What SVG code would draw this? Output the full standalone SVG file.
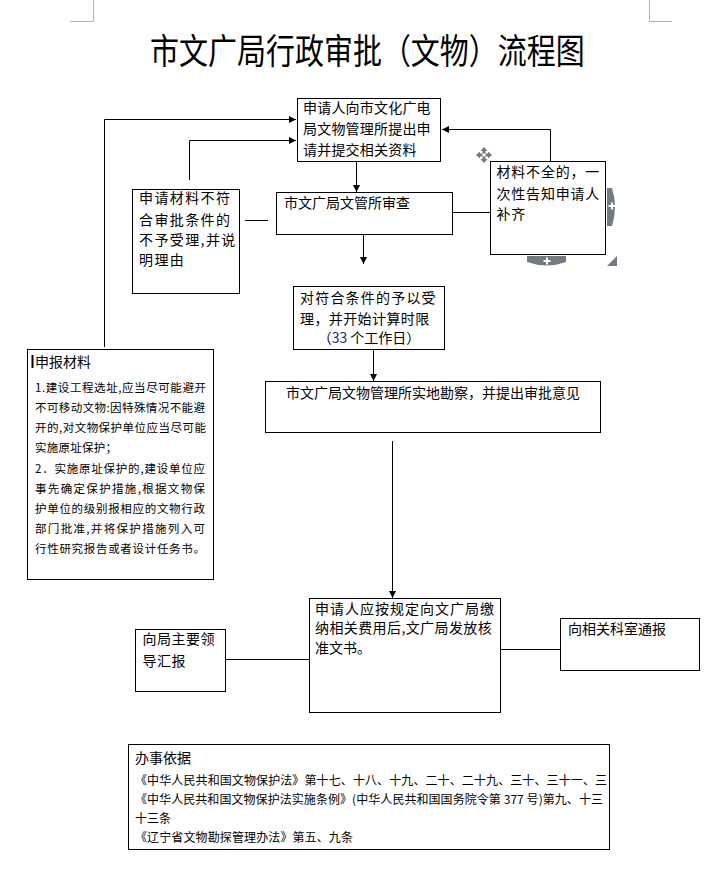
<svg xmlns="http://www.w3.org/2000/svg" width="727" height="883" viewBox="0 0 727 883">
<style>
  .box { fill: #ffffff; stroke: #000000; stroke-width: 1; }
  .ln { fill: none; stroke: #000000; stroke-width: 1; }
  .t { font-family: "Noto Sans CJK SC", "Liberation Sans", sans-serif; font-size: 14px; fill: #000000; }
  .s { font-family: "Noto Sans CJK SC", "Liberation Sans", sans-serif; font-size: 11.5px; fill: #000000; }
  .l { font-family: "Noto Sans CJK SC", "Liberation Sans", sans-serif; font-size: 12px; fill: #000000; }
  .ui { fill: #737a84; }
  .mark { fill: none; stroke: #b4b4b4; stroke-width: 1; }
</style>
<defs>
  <marker id="arr" viewBox="0 0 8 8" refX="8" refY="4" markerWidth="7" markerHeight="7" markerUnits="userSpaceOnUse" orient="auto">
    <path d="M0,0 L8,4 L0,8 z" fill="#000000"/>
  </marker>
  <clipPath id="lawclip"><rect x="129" y="745" width="480" height="104"/></clipPath>
</defs>
<rect x="0" y="0" width="727" height="883" fill="#ffffff"/>

<!-- page corner marks -->
<path class="mark" d="M70,21.5 H93.5 V0"/>
<path class="mark" d="M649.5,0 V21.5 H672"/>

<text transform="scale(1,1.2)" x="150" y="53.5" font-family="'Noto Sans CJK SC', sans-serif" font-size="29" fill="#000">市文广局行政审批（文物）流程图</text>

<g id="connectors">
  <path class="ln" d="M104.5,347 V119.5 H296" marker-end="url(#arr)"/>
  <path class="ln" d="M189.5,180 V140.5 H296" marker-end="url(#arr)"/>
  <path class="ln" d="M550.5,161 V129.5 H442" marker-end="url(#arr)"/>
  <path class="ln" d="M356.5,161.5 V192" marker-end="url(#arr)"/>
  <path class="ln" d="M245,220.5 H268"/>
  <path class="ln" d="M452.5,212.5 H490.5"/>
  <path class="ln" d="M363.5,234.5 V264" marker-end="url(#arr)"/>
  <path class="ln" d="M373.5,349.5 V381" marker-end="url(#arr)"/>
  <path class="ln" d="M392.5,441 V598" marker-end="url(#arr)"/>
  <path class="ln" d="M225.5,659.5 H309.5"/>
  <path class="ln" d="M500.5,649.5 H560.5"/>
</g>

<g id="node-apply">
  <rect class="box" x="297.5" y="98.5" width="143" height="63"/>
  <text class="t" x="303" y="113" letter-spacing="0.2">申请人向市文化广电</text>
  <text class="t" x="303" y="134" letter-spacing="0.2">局文物管理所提出申</text>
  <text class="t" x="303" y="154.5" letter-spacing="0.2">请并提交相关资料</text>
</g>

<g id="node-review">
  <rect class="box" x="276.5" y="192.5" width="176" height="42"/>
  <text class="t" x="284" y="208">市文广局文管所审查</text>
</g>

<g id="node-reject">
  <rect class="box" x="132.5" y="189.5" width="107" height="104"/>
  <text class="t" x="139" y="202.5" letter-spacing="1.4">申请材料不符</text>
  <text class="t" x="139" y="224.5" letter-spacing="1.4">合审批条件的</text>
  <text class="t" x="139" y="245" letter-spacing="1.4">不予受理,并说</text>
  <text class="t" x="139" y="265" letter-spacing="1.4">明理由</text>
</g>

<g id="node-incomplete">
  <rect class="box" x="490.5" y="161.5" width="115" height="93"/>
  <text class="t" x="496.5" y="176.5" letter-spacing="0.8">材料不全的，一</text>
  <text class="t" x="496.5" y="198.5" letter-spacing="0.8">次性告知申请人</text>
  <text class="t" x="496.5" y="219" letter-spacing="0.8">补齐</text>
  <!-- editor handles -->
  <path class="ui" d="M607,188 H612 Q618,207 612,226 H607 Z"/>
  <rect x="608.5" y="205" width="7" height="2" fill="#fff"/>
  <rect x="611" y="202.5" width="2" height="7" fill="#fff"/>
  <path class="ui" d="M527,256 H566 V262 Q547,269 527,262 Z"/>
  <rect x="543.5" y="260" width="7" height="2" fill="#fff"/>
  <rect x="546" y="257.5" width="2" height="7" fill="#fff"/>
  <path class="ui" d="M617,255 V266 H606 Z"/>
  <path d="M606,266 L617,255" stroke="#fff" stroke-width="1.5"/>
  <g class="ui">
    <path d="M484,147 L487.5,151 H480.5 Z"/>
    <path d="M484,163 L487.5,159 H480.5 Z"/>
    <path d="M476,155 L480,151.5 V158.5 Z"/>
    <path d="M492,155 L488,151.5 V158.5 Z"/>
    <rect x="482.5" y="151" width="3" height="2.5"/>
    <rect x="482.5" y="156.5" width="3" height="2.5"/>
    <rect x="480" y="153.5" width="2.5" height="3"/>
    <rect x="485.5" y="153.5" width="2.5" height="3"/>
  </g>
</g>

<g id="node-accept">
  <rect class="box" x="293.5" y="286.5" width="151" height="63"/>
  <text class="t" x="300" y="302.5" letter-spacing="1.2">对符合条件的予以受</text>
  <text class="t" x="300" y="323.5" letter-spacing="0.4">理，并开始计算时限</text>
  <text class="t" x="369" y="342.5" text-anchor="middle">（<tspan fill="#1a2f80">33</tspan> 个工作日）</text>
</g>

<g id="node-survey">
  <rect class="box" x="265.5" y="381.5" width="335" height="51"/>
  <text class="t" x="286" y="397.5">市文广局文物管理所实地勘察，并提出审批意见</text>
</g>

<g id="node-materials">
  <rect class="box" x="27.5" y="349.5" width="186" height="230"/>
  <rect x="31.5" y="355" width="2" height="13" fill="#000"/>
  <text class="t" x="35" y="366.5" font-size="13">申报材料</text>
  <text class="s" x="35" y="391.5" textLength="171" lengthAdjust="spacing">1.建设工程选址,应当尽可能避开</text>
  <text class="s" x="35" y="411.5" textLength="170" lengthAdjust="spacing">不可移动文物:因特殊情况不能避</text>
  <text class="s" x="35" y="432" textLength="171" lengthAdjust="spacing">开的,对文物保护单位应当尽可能</text>
  <text class="s" x="35" y="452" textLength="82" lengthAdjust="spacing">实施原址保护；</text>
  <text class="s" x="35" y="473" textLength="170" lengthAdjust="spacing">2．实施原址保护的,建设单位应</text>
  <text class="s" x="35" y="493" textLength="170" lengthAdjust="spacing">事先确定保护措施,根据文物保</text>
  <text class="s" x="35" y="513" textLength="170" lengthAdjust="spacing">护单位的级别报相应的文物行政</text>
  <text class="s" x="35" y="533" textLength="170" lengthAdjust="spacing">部门批准,并将保护措施列入可</text>
  <text class="s" x="35" y="553" textLength="170" lengthAdjust="spacing">行性研究报告或者设计任务书。</text>
</g>

<g id="node-issue">
  <rect class="box" x="309.5" y="598.5" width="191" height="114"/>
  <text class="t" x="315" y="613.5" letter-spacing="1">申请人应按规定向文广局缴</text>
  <text class="t" x="315" y="633" letter-spacing="0.4">纳相关费用后,文广局发放核</text>
  <text class="t" x="315" y="652.5">准文书。</text>
</g>

<g id="node-leader">
  <rect class="box" x="135.5" y="629.5" width="90" height="62"/>
  <text class="t" x="142.5" y="644" letter-spacing="0.5">向局主要领</text>
  <text class="t" x="142.5" y="666" letter-spacing="0.5">导汇报</text>
</g>

<g id="node-notify">
  <rect class="box" x="560.5" y="618.5" width="139" height="52"/>
  <text class="t" x="568" y="634">向相关科室通报</text>
</g>

<g id="node-basis">
  <rect class="box" x="128.5" y="744.5" width="481" height="105"/>
  <text class="t" x="135" y="763">办事依据</text>
  <g clip-path="url(#lawclip)">
    <text class="l" x="135" y="785" textLength="472" lengthAdjust="spacing">《中华人民共和国文物保护法》第十七、十八、十九、二十、二十九、三十、三十一、三</text>
    <text class="l" x="135" y="804" textLength="468" lengthAdjust="spacing">《中华人民共和国文物保护法实施条例》(中华人民共和国国务院令第 377 号)第九、十三</text>
  </g>
  <text class="l" x="135" y="823">十三条</text>
  <text class="l" x="135" y="842" textLength="218" lengthAdjust="spacing">《辽宁省文物勘探管理办法》第五、九条</text>
</g>
</svg>
